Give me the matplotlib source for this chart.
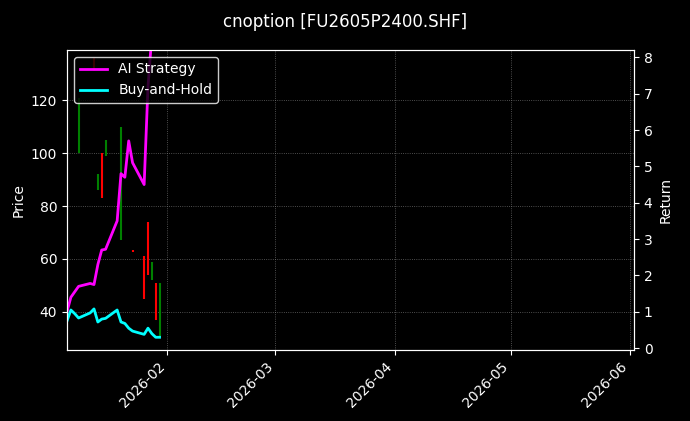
import matplotlib
matplotlib.use("Agg")
import matplotlib.pyplot as plt
import matplotlib.dates as mdates
import pandas as pd

dates = pd.to_datetime(["2026-01-06","2026-01-07","2026-01-08","2026-01-09","2026-01-12","2026-01-13",
    "2026-01-14","2026-01-15","2026-01-16","2026-01-19","2026-01-20","2026-01-21","2026-01-22",
    "2026-01-23","2026-01-26","2026-01-27","2026-01-28","2026-01-29","2026-01-30"])
ai_ret = [1.0,1.4,1.55,1.7,1.78,1.75,2.3,2.7,2.72,3.5,4.8,4.7,5.7,5.1,4.5,7.2,8.6,9.0,9.0]
bh_ret = [0.75,1.05,0.95,0.83,0.97,1.08,0.72,0.8,0.82,1.05,0.72,0.68,0.55,0.47,0.38,0.55,0.4,0.3,0.3]

c_dates = pd.to_datetime(["2026-01-09","2026-01-13","2026-01-14","2026-01-15","2026-01-16","2026-01-20",
    "2026-01-23","2026-01-26","2026-01-27","2026-01-28","2026-01-29","2026-01-30"])
c_low  = [100,131,86,83,99,67,62.5,45,54,52,37,31]
c_high = [121,136,92,100,105,110,63.5,61,74,59,51,51]
c_up   = [True,False,True,False,True,True,False,False,False,True,False,True]

fig = plt.figure(figsize=(6.9,4.21), dpi=100, facecolor="black")
ax = fig.add_axes([67/690, 1-350/421, 567/690, 300/421], facecolor="black")
for d, lo, hi, up in zip(c_dates, c_low, c_high, c_up):
    ax.vlines(d, lo, hi, color="green" if up else "red", lw=1.5)
ax.set_ylim(25.6, 139)
ax.set_xlim(pd.Timestamp("2026-01-06"), pd.Timestamp("2026-06-02"))
ax.set_ylabel("Price", color="white")
ax.grid(True, color="gray", ls=":", lw=0.6, alpha=0.8)
ax.xaxis.set_major_locator(mdates.MonthLocator())
ax.xaxis.set_major_formatter(mdates.DateFormatter("%Y-%m"))
plt.setp(ax.get_xticklabels(), rotation=45, ha="right")

ax2 = ax.twinx()
ax2.plot(dates, ai_ret, color="magenta", lw=2, label="AI Strategy")
ax2.plot(dates, bh_ret, color="cyan", lw=2, label="Buy-and-Hold")
ax2.set_ylim(-0.05, 8.2)
ax2.set_ylabel("Return", color="white")

for a in (ax, ax2):
    a.tick_params(colors="white")
    for s in a.spines.values():
        s.set_color("white")
leg = ax2.legend(loc="upper left", facecolor="black", edgecolor="white")
for t in leg.get_texts():
    t.set_color("white")
fig.suptitle("cnoption [FU2605P2400.SHF]", color="white", y=0.97)
fig.savefig("out.png", dpi=100, facecolor="black")
